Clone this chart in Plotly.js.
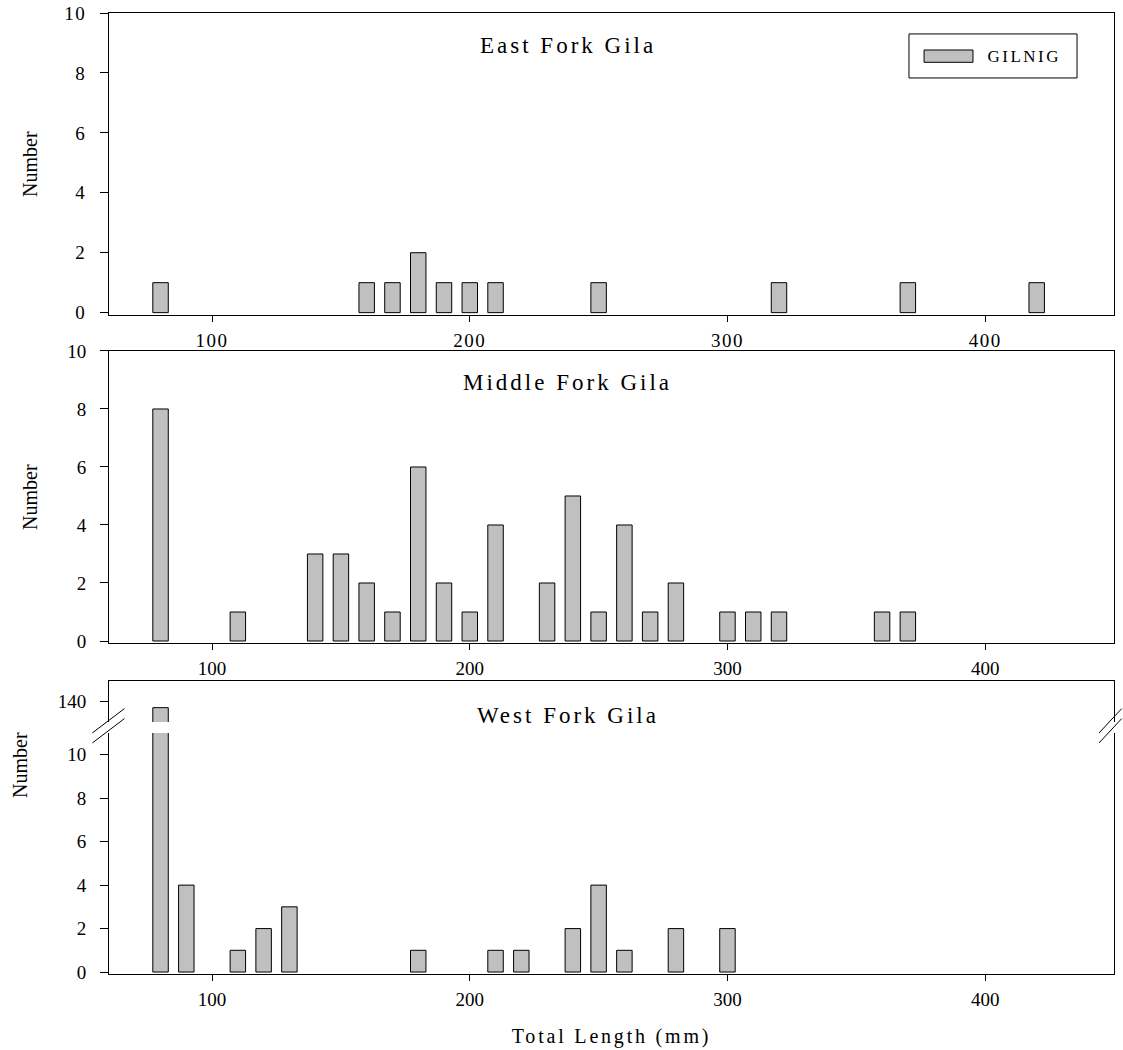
<!DOCTYPE html>
<html>
<head>
<meta charset="utf-8">
<script src="https://cdn.plot.ly/plotly-3.0.1.min.js"></script>
<style>
  html, body { margin: 0; padding: 0; background: #fff; }
  #chart { width: 1123px; height: 1050px; }
  /* spaced-out lettering of the labels */
  .xtick text, .ytick text { letter-spacing: 1.5px; }
  .x3title { letter-spacing: 2.8px; }
  .annotation[data-index="0"] .annotation-text,
  .annotation[data-index="1"] .annotation-text,
  .annotation[data-index="2"] .annotation-text { letter-spacing: 3px; }
  .annotation[data-index="6"] .annotation-text { letter-spacing: 2.5px; }
</style>
</head>
<body>
<div id="chart"></div>
<script>
// Length-frequency of GILNIG, total length (mm) bins and counts per fork
const eastLength   = [80, 160, 170, 180, 190, 200, 210, 250, 320, 370, 420];
const eastCount    = [1, 1, 1, 2, 1, 1, 1, 1, 1, 1, 1];

const middleLength = [80, 110, 140, 150, 160, 170, 180, 190, 200, 210, 230, 240, 250, 260, 270, 280, 300, 310, 320, 360, 370];
const middleCount  = [8, 1, 3, 3, 2, 1, 6, 2, 1, 4, 2, 5, 1, 4, 1, 2, 1, 1, 1, 1, 1];

const westLength   = [80, 90, 110, 120, 130, 180, 210, 220, 240, 250, 260, 280, 300];
const westCount    = [137, 4, 1, 2, 3, 1, 1, 1, 2, 4, 1, 2, 2];

const panelTitles  = ['East Fork Gila', 'Middle Fork Gila', 'West Fork Gila'];
const seriesName   = 'GILNIG';
const xTicks       = [100, 200, 300, 400];
const yTicks       = [0, 2, 4, 6, 8, 10];
const upperTicks   = [140];

const FONT = 'Liberation Serif, Times New Roman, serif';
const BAR_FILL = '#c0c0c0';

function bars(x, y, xa, ya) {
  return {
    type: 'bar', x: x, y: y, xaxis: xa, yaxis: ya,
    width: 6, name: seriesName, showlegend: false,
    marker: { color: BAR_FILL, line: { color: '#000', width: 1 } },
    hoverinfo: 'x+y'
  };
}

const data = [
  bars(eastLength, eastCount, 'x', 'y'),
  bars(middleLength, middleCount, 'x2', 'y2'),
  bars(westLength, westCount, 'x3', 'y3'),
  bars(westLength, westCount, 'x4', 'y4')   // upper segment above the axis break
];

const tickFont = { family: FONT, size: 19, color: '#000' };

function xAxis(anchor, mirror) {
  return {
    anchor: anchor, domain: [0, 1], range: [60, 450],
    tickmode: 'array', tickvals: xTicks, ticktext: xTicks.map(String),
    ticks: 'outside', ticklen: 6, tickwidth: 1, tickcolor: '#000',
    showline: true, linecolor: '#000', linewidth: 1, mirror: mirror,
    showgrid: false, zeroline: false, tickfont: tickFont, ticklabelstandoff: 2
  };
}
function yAxis(anchor, domain, range, vals) {
  return {
    anchor: anchor, domain: domain, range: range,
    tickmode: 'array', tickvals: vals, ticktext: vals.map(String),
    ticks: 'outside', ticklen: 8, tickwidth: 1, tickcolor: '#000',
    showline: true, linecolor: '#000', linewidth: 1, mirror: true,
    showgrid: false, zeroline: false, tickfont: tickFont, ticklabelstandoff: 10
  };
}

const x3 = xAxis('y3', false);
x3.title = { text: 'Total Length (mm)', font: { family: FONT, size: 20, color: '#000' }, standoff: 20 };

const x4 = xAxis('y4', false);
x4.side = 'top';
x4.ticks = '';
x4.showticklabels = false;

// break markers on both sides of the bottom panel's y axis
const breakLines = [];
[[-0.0166, 0.0154], [0.9851, 1.0077]].forEach(function (seg) {
  [0, 1].forEach(function (k) {
    const yLow = k === 0 ? 0.2508 : 0.2404;
    const yHigh = k === 0 ? 0.2762 : 0.2658;
    breakLines.push({
      type: 'line', xref: 'paper', yref: 'paper',
      x0: seg[0], x1: seg[1], y0: yLow, y1: yHigh,
      line: { color: '#000', width: 1 }
    });
  });
});

// legend box drawn as a framed swatch and label
const legendShapes = [
  { type: 'rect', xref: 'paper', yref: 'paper', x0: 0.796, x1: 0.9632, y0: 0.9324, y1: 0.9782,
    line: { color: '#000', width: 1 }, fillcolor: 'rgba(0,0,0,0)' },
  { type: 'rect', xref: 'paper', yref: 'paper', x0: 0.8110, x1: 0.8597, y0: 0.9487, y1: 0.9615,
    line: { color: '#000', width: 1 }, fillcolor: BAR_FILL }
];

const titleFont = { family: FONT, size: 23, color: '#000' };
const numFont = { family: FONT, size: 20, color: '#000' };

const annotations = [
  { text: panelTitles[0], x: 0.4567, y: 0.9667 },
  { text: panelTitles[1], x: 0.4567, y: 0.6150 },
  { text: panelTitles[2], x: 0.4567, y: 0.2685 }
].map(function (a) {
  return Object.assign({ xref: 'paper', yref: 'paper', showarrow: false,
    xanchor: 'center', yanchor: 'middle', font: titleFont }, a);
}).concat([
  { text: 'Number', x: -0.0786, y: 0.8430 },
  { text: 'Number', x: -0.0786, y: 0.4964 },
  { text: 'Number', x: -0.0886, y: 0.2175 }
].map(function (a) {
  return Object.assign({ xref: 'paper', yref: 'paper', showarrow: false, textangle: -90,
    xanchor: 'center', yanchor: 'middle', font: numFont }, a);
})).concat([
  { text: seriesName, xref: 'paper', yref: 'paper', x: 0.8796, y: 0.9551, showarrow: false,
    xanchor: 'left', yanchor: 'middle', font: { family: FONT, size: 17, color: '#000' } }
]);

const layout = {
  width: 1123, height: 1050,
  margin: { l: 109, r: 9, t: 13, b: 76 },
  paper_bgcolor: '#fff', plot_bgcolor: '#fff',
  showlegend: false, bargap: 0,
  font: { family: FONT, color: '#000' },
  xaxis: xAxis('y', true),
  xaxis2: xAxis('y2', true),
  xaxis3: x3,
  xaxis4: x4,
  yaxis: yAxis('x', [0.6857, 1], [-0.08, 10], yTicks),
  yaxis2: yAxis('x2', [0.3444, 0.6483], [-0.07, 10], yTicks),
  yaxis3: yAxis('x3', [0, 0.2508], [-0.09, 11], yTicks),
  yaxis4: yAxis('x4', [0.2622, 0.3049], [130, 150], upperTicks),
  shapes: breakLines.concat(legendShapes),
  annotations: annotations
};

Plotly.newPlot('chart', data, layout, { staticPlot: true, displayModeBar: false });
</script>
</body>
</html>
